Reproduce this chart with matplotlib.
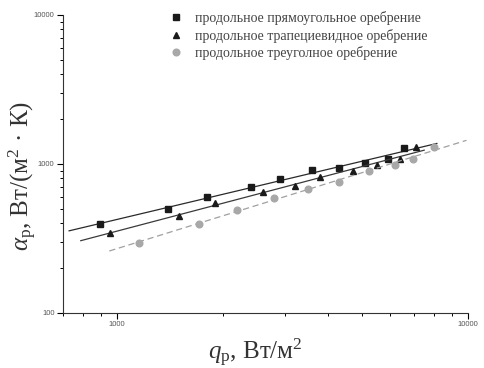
import numpy as np
import matplotlib
matplotlib.use("Agg")
import matplotlib.pyplot as plt
from matplotlib.ticker import LogLocator, NullFormatter

plt.rcParams['mathtext.fontset'] = 'custom'
plt.rcParams['mathtext.rm'] = 'Liberation Serif'
plt.rcParams['mathtext.it'] = 'Liberation Serif:italic'

# данные
q_pryam = [893, 1399, 1803, 2399, 2903, 3591, 4284, 5100, 5900, 6580]
a_pryam = [396, 497, 601, 701, 796, 907, 940, 1012, 1082, 1285]

q_trap = [953, 1504, 1897, 2602, 3207, 3776, 4701, 5510, 6400, 7130]
a_trap = [346, 450, 545, 649, 711, 815, 898, 991, 1086, 1300]

q_treug = [1151, 1707, 2199, 2798, 3497, 4284, 5210, 6180, 6980, 8020]
a_treug = [296, 397, 493, 594, 676, 761, 898, 984, 1086, 1310]

line_range = [(729, 8150), (787, 7500), (949, 9900)]

labels = ['продольное прямоугольное оребрение',
          'продольное трапециевидное оребрение',
          'продольное треуголное оребрение']

fig = plt.figure(figsize=(4.84, 3.68), dpi=100)
ax = fig.add_axes([0.130, 0.1495, 0.837, 0.8098])

series = [(q_pryam, a_pryam, 's', '#1a1a1a', '-', '#2a2a2a'),
          (q_trap, a_trap, '^', '#1a1a1a', '-', '#3a3a3a'),
          (q_treug, a_treug, 'o', '#a8a8a8', '--', '#a0a0a0')]

for (q, a, m, c, ls, lc), lab, (x0, x1) in zip(series, labels, line_range):
    k, b = np.polyfit(np.log10(q), np.log10(a), 1)
    xx = np.array([x0, x1])
    ax.plot(xx, 10 ** (b + k * np.log10(xx)), ls, color=lc, lw=0.9,
            dashes=(5, 3) if ls == '--' else (None, None))
    ax.plot(q, a, m, color=c, ms=4.8, ls='none', label=lab)

ax.set_xscale('log')
ax.set_yscale('log')
ax.set_xlim(700, 10000)
ax.set_ylim(100, 10000)
ax.set_xticks([1000, 10000])
ax.set_xticklabels(['1000', '10000'])
ax.set_yticks([100, 1000, 10000])
ax.set_yticklabels(['100', '1000', '10000'])
ax.xaxis.set_minor_locator(LogLocator(base=10, subs=np.arange(2, 10)))
ax.yaxis.set_minor_locator(LogLocator(base=10, subs=np.arange(2, 10)))
ax.xaxis.set_minor_formatter(NullFormatter())
ax.yaxis.set_minor_formatter(NullFormatter())
ax.tick_params(which='major', length=4, width=0.8, labelsize=5.5, pad=2,
               labelcolor='#555555', labelfontfamily='Liberation Sans')
ax.tick_params(which='minor', length=2.5, width=0.7)

for s in ['top', 'right']:
    ax.spines[s].set_visible(False)
for s in ['left', 'bottom']:
    ax.spines[s].set_color('#333333')

ax.set_xlabel(r'$q_\mathrm{р}$, Вт/м$^2$', fontsize=18,
              fontfamily='Liberation Serif', color='#333333')
ax.xaxis.set_label_coords(0.475, -0.08)
ax.set_ylabel(r'$\alpha_\mathrm{р}$, Вт/(м$^2$ · К)', fontsize=18,
              fontfamily='Liberation Serif', color='#333333')
ax.yaxis.set_label_coords(-0.06, 0.46)

ax.legend(loc='upper left', bbox_to_anchor=(0.231, 1.055), frameon=False,
          prop={'family': 'Liberation Serif', 'size': 10},
          handletextpad=0.85, labelspacing=0.25, handlelength=1.0,
          labelcolor='#444444')

fig.savefig('out.png', dpi=100)
